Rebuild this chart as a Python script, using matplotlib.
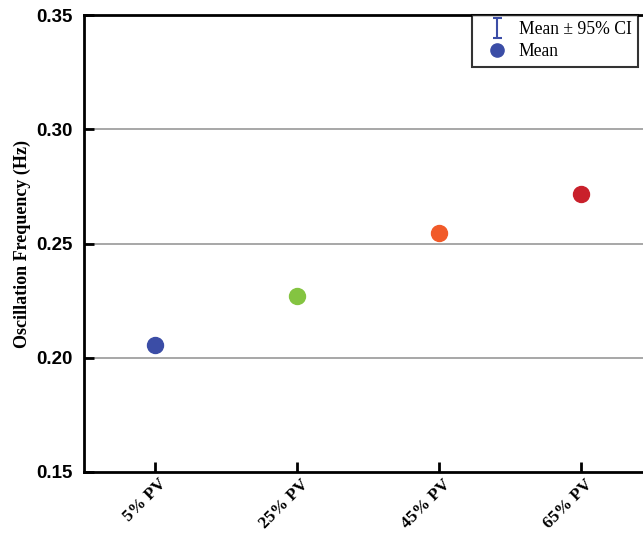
import matplotlib
matplotlib.use("Agg")
import matplotlib.pyplot as plt
from matplotlib.lines import Line2D
from matplotlib.path import Path

categories = ["5% PV", "25% PV", "45% PV", "65% PV"]
means = [0.2057, 0.2271, 0.2544, 0.2715]
ci = [0.0012, 0.0012, 0.0011, 0.0012]
colors = ["#3b4da6", "#84c441", "#f15a29", "#c9202b"]
yticks = [0.15, 0.20, 0.25, 0.30, 0.35]
ytick_labels = ["0.15", "0.20", "0.25", "0.30", "0.35"]

fig = plt.figure(figsize=(6.43, 5.37), dpi=100)
ax = fig.add_axes([84/643, 65/537, 568/643, 457/537])

xs = list(range(1, len(categories) + 1))
for x, m, c, col in zip(xs, means, ci, colors):
    ax.errorbar(x, m, yerr=c, fmt='o', color=col, markersize=11.5,
                ecolor=col, elinewidth=1.5, capsize=4, zorder=3)

ax.set_xlim(0.5, 4.5)
ax.set_ylim(0.15, 0.35)
ax.set_yticks(yticks)
ax.set_yticklabels(ytick_labels, fontfamily="Liberation Sans", fontweight="bold", fontsize=13.5)
ax.set_xticks(xs)
ax.set_xticklabels([""] * len(xs))
for x, lab in zip(xs, categories):
    ax.annotate(lab, xy=(x, 0), xycoords=("data", "axes fraction"),
                xytext=(2.2, -3), textcoords="offset points",
                rotation=45, ha="right", va="top", rotation_mode="anchor",
                fontfamily="Liberation Serif", fontweight="bold", fontsize=12.5,
                annotation_clip=False)
for y in [0.20, 0.25, 0.30]:
    ax.axhline(y, color="#a0a0a0", linewidth=1.3, zorder=1)
ax.tick_params(axis="both", direction="in", length=7, width=2, color="black")
ax.tick_params(axis="y", pad=8.5)
for s in ax.spines.values():
    s.set_linewidth(2)
ax.set_ylabel("Oscillation Frequency (Hz)", fontfamily="Liberation Serif", fontweight="bold",
              fontsize=13)
ax.yaxis.set_label_coords(-53/568, 0.5)

ibar = Path([(-0.45, -1), (0.45, -1), (0, -1), (0, 1), (-0.45, 1), (0.45, 1)],
            [Path.MOVETO, Path.LINETO, Path.MOVETO, Path.LINETO, Path.MOVETO, Path.LINETO])
h1 = Line2D([], [], linestyle="none", marker=ibar, markersize=14.4, markeredgewidth=1.5,
            color="#3b4da6", markerfacecolor="none")
h2 = Line2D([], [], linestyle="none", marker="o", markersize=9.5, color="#3b4da6")
leg = fig.legend([h1, h2], ["Mean \u00b1 95% CI", "Mean"], loc="upper left",
                 bbox_to_anchor=(472/643, 1 - 15/537), frameon=True, fancybox=False,
                 edgecolor="black", prop={"family": "Liberation Serif", "size": 12.7},
                 handlelength=2.1, borderaxespad=0, labelspacing=0.3, handletextpad=0.2,
                 borderpad=0.35)
leg.get_frame().set_linewidth(1.5)

fig.savefig("out.png", dpi=100)
